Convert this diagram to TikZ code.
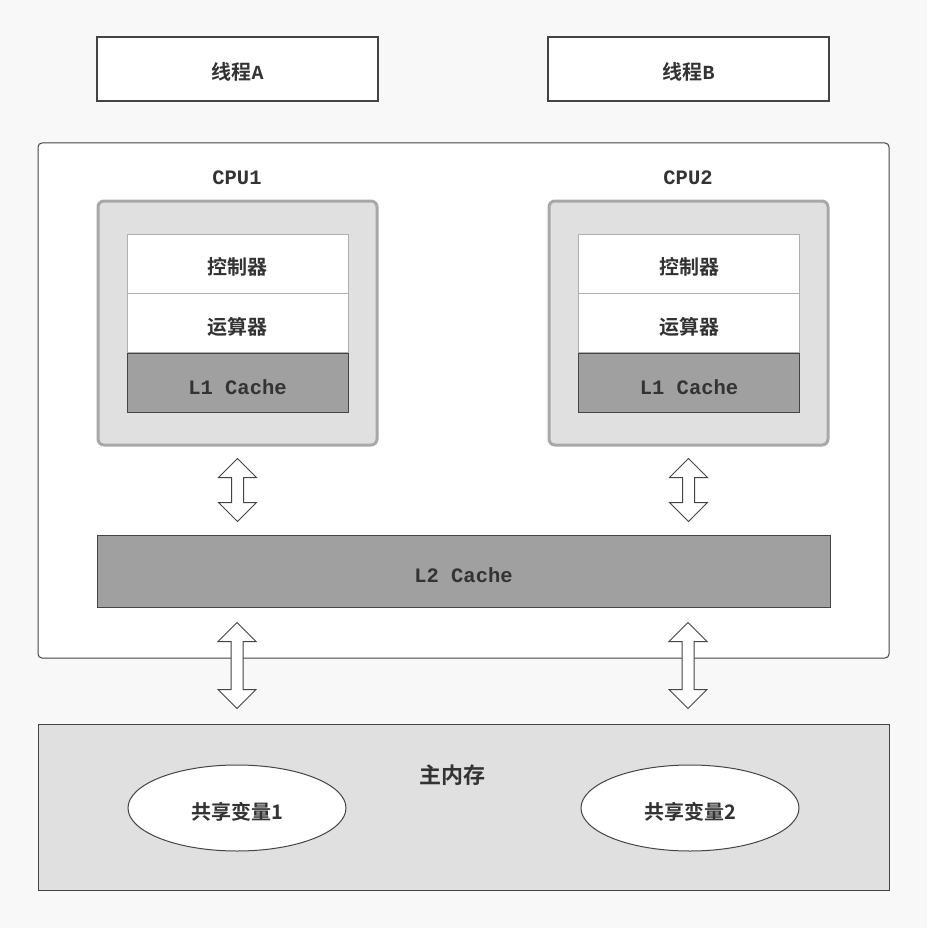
\documentclass[tikz,border=0pt]{standalone}
\usepackage{fontspec}
\newfontfamily\cjk{Noto Sans CJK SC}[BoldFont={* Bold}]
\newfontfamily\mono{Liberation Mono}
\usetikzlibrary{calc,shapes.geometric}
\definecolor{bg}{HTML}{F8F8F8}
\definecolor{txt}{HTML}{333333}
\definecolor{edge}{HTML}{444444}
\definecolor{lightfill}{HTML}{E0E0E0}
\definecolor{cachefill}{HTML}{A0A0A0}
\definecolor{cpuedge}{HTML}{A8A8A8}
\definecolor{unitedge}{HTML}{B0B0B0}
\tikzset{
  cjktext/.style={font=\cjk\bfseries\fontsize{20}{24}\selectfont, text=txt, text height=22pt, text depth=0pt},
  monotext/.style={font=\mono\bfseries\fontsize{20.5}{24}\selectfont, text=txt},
  monoshift/.style={text height=23pt, text depth=0pt},
  threadbox/.style={draw=edge, line width=1.2pt, fill=white, minimum width=281pt, minimum height=64pt, inner sep=0pt, cjktext},
  outerbox/.style={draw=edge, line width=1pt, fill=white, rounded corners=4pt, inner sep=0pt},
  cpubox/.style={draw=cpuedge, line width=3pt, fill=lightfill, rounded corners=6pt, minimum width=279pt, minimum height=244pt, inner sep=0pt},
  unitbox/.style={draw=unitedge, line width=1pt, fill=white, minimum width=221pt, minimum height=59pt, inner sep=0pt, cjktext},
  cachebox/.style={draw=edge, line width=1pt, fill=cachefill, inner sep=0pt, monotext, monoshift},
  membox/.style={draw=edge, line width=1pt, fill=lightfill, inner sep=0pt},
  varell/.style={ellipse, draw=edge, line width=1pt, fill=white, minimum width=218pt, minimum height=86pt, inner sep=0pt, cjktext},
  dblarrowstyle/.style={draw=edge, line width=1pt, fill=white, line join=miter},
}
\newcommand{\mydblarrow}[2]{%
  \draw[dblarrowstyle] (#1) -- ++(19,19) -- ++(-13,0) |- ($(#2)+(6,-19)$) -- ++(13,0) -- (#2) -- ++(-19,-19) -- ++(13,0) |- ($(#1)+(-19,19)$) -- cycle;}
\begin{document}
\begin{tikzpicture}[x=1pt,y=-1pt]
\useasboundingbox (0,0) rectangle (927,928);
\fill[bg] (0,0) rectangle (927,928);

% threads
\node[threadbox] (thA) at (237.5,69) {线程{\mono\bfseries A}};
\node[threadbox] (thB) at (688.5,69) {线程{\mono\bfseries B}};

% outer CPU area
\node[outerbox, minimum width=851pt, minimum height=515pt] (outer) at (463.5,400.5) {};

% CPU1
\node[monotext] (cpu1lbl) at (237,177.5) {CPU1};
\node[cpubox] (cpu1) at (237.5,323) {};
\node[unitbox] (ctl1) at (237.5,263.5) {控制器};
\node[unitbox] (alu1) at (237.5,323) {运算器};
\node[cachebox, minimum width=221pt, minimum height=59pt] (l1a) at (237.5,382.5) {L1 Cache};

% CPU2
\node[monotext] (cpu2lbl) at (688,177.5) {CPU2};
\node[cpubox] (cpu2) at (688.5,323) {};
\node[unitbox] (ctl2) at (689,263.5) {控制器};
\node[unitbox] (alu2) at (689,323) {运算器};
\node[cachebox, minimum width=221pt, minimum height=59pt] (l1b) at (689,382.5) {L1 Cache};

% L2
\node[cachebox, minimum width=733pt, minimum height=72pt] (l2) at (463.5,571) {L2 Cache};

% main memory
\node[membox, minimum width=851pt, minimum height=166pt] (mem) at (463.5,807) {};
\node[font=\cjk\bfseries\fontsize{22}{26}\selectfont, text=txt] (memlbl) at (452,775) {主内存};
\node[varell] (var1) at (237,808) {共享变量1};
\node[varell] (var2) at (690,808) {共享变量2};

% arrows
\coordinate (a1t) at ($(cpu1.south)+(0,12)$);
\coordinate (a1b) at ($(a1t)+(0,63)$);
\coordinate (a2t) at ($(cpu2.south)+(0,12)$);
\coordinate (a2b) at ($(a2t)+(0,63)$);
\mydblarrow{a1t}{a1b}
\mydblarrow{a2t}{a2b}
\coordinate (b1t) at ($(l2.south)+(-226.5,15)$);
\coordinate (b1b) at ($(mem.north)+(-226.5,-15)$);
\coordinate (b2t) at ($(l2.south)+(224.5,15)$);
\coordinate (b2b) at ($(mem.north)+(224.5,-15)$);
\mydblarrow{b1t}{b1b}
\mydblarrow{b2t}{b2b}
\end{tikzpicture}
\end{document}
